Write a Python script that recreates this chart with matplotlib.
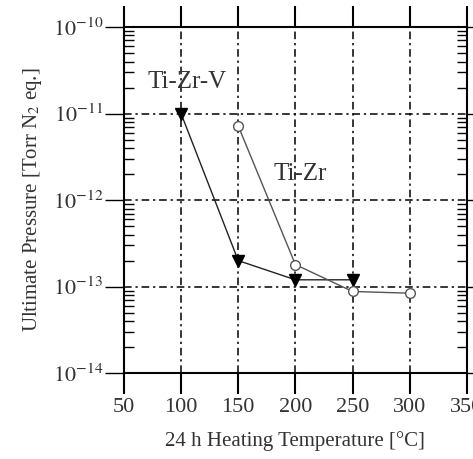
import matplotlib
matplotlib.use("Agg")
import matplotlib.pyplot as plt
from matplotlib.ticker import LogLocator, NullFormatter, FixedLocator

# heating temperature [C] and ultimate pressure [Torr N2 eq.]
temp_tizrv = [100, 150, 200, 250]
press_tizrv = [1.0e-11, 2.0e-13, 1.2e-13, 1.2e-13]

temp_tizr = [150, 200, 250, 300]
press_tizr = [7.2e-12, 1.8e-13, 0.88e-13, 0.84e-13]

x_ticks = [50, 100, 150, 200, 250, 300, 350]
y_ticks = [1e-14, 1e-13, 1e-12, 1e-11, 1e-10]
y_labels = ["$10^{-14}$", "$10^{-13}$", "$10^{-12}$", "$10^{-11}$", "$10^{-10}$"]

plt.rcParams['font.family'] = ['Liberation Serif', 'DejaVu Serif']
plt.rcParams['mathtext.fontset'] = 'stix'

text_col = '#333333'

fig = plt.figure(figsize=(4.73, 4.59), dpi=100)
ax = fig.add_axes([0.262, 0.187, 0.725, 0.754])

ax.set_yscale('log')
ax.set_xlim(50, 350)
ax.set_ylim(1e-14, 1e-10)

# dash-dot grid at the major ticks
for x in x_ticks[1:-1]:
    ax.axvline(x, color='black', lw=1.1, ls=(0, (5, 2.5, 1.5, 2.5)), zorder=1)
for y in y_ticks[1:-1]:
    ax.axhline(y, color='black', lw=1.1, ls=(0, (5, 2.5, 1.5, 2.5)), zorder=1)

ax.plot(temp_tizrv, press_tizrv, color='#222222', lw=1.0, marker='v',
        markersize=8, markerfacecolor='black', markeredgecolor='black', zorder=3)
ax.plot(temp_tizr, press_tizr, color='#555555', lw=1.0, marker='o',
        markersize=7, markerfacecolor='white', markeredgecolor='#555555', zorder=3)

ax.text(105, 2.3e-11, 'Ti-Zr-V', fontsize=18, color=text_col, ha='center', va='center')
ax.text(204, 2.0e-12, 'Ti-Zr', fontsize=18, color=text_col, ha='center', va='center')

ax.xaxis.set_major_locator(FixedLocator(x_ticks))
ax.yaxis.set_major_locator(FixedLocator(y_ticks))
ax.set_yticklabels(y_labels)
ax.yaxis.set_minor_locator(LogLocator(base=10, subs=range(2, 10), numticks=20))
ax.yaxis.set_minor_formatter(NullFormatter())

ax.tick_params(axis='x', which='major', direction='out', length=15, width=1.5,
               top=True, labelsize=16, pad=3, labelcolor=text_col)
ax.tick_params(axis='y', which='major', direction='out', length=14, width=1.0,
               right=True, labelsize=16, pad=1, labelcolor=text_col)
ax.tick_params(axis='y', which='minor', direction='in', length=7, width=1.0,
               right=True)

for s in ax.spines.values():
    s.set_linewidth(1.5)

ax.set_xlabel('24 h Heating Temperature [°C]', fontsize=15, labelpad=10, color=text_col)
ax.set_ylabel('Ultimate Pressure [Torr N$_2$ eq.]', fontsize=15, labelpad=6, color=text_col)

fig.savefig('out.png', dpi=100)
